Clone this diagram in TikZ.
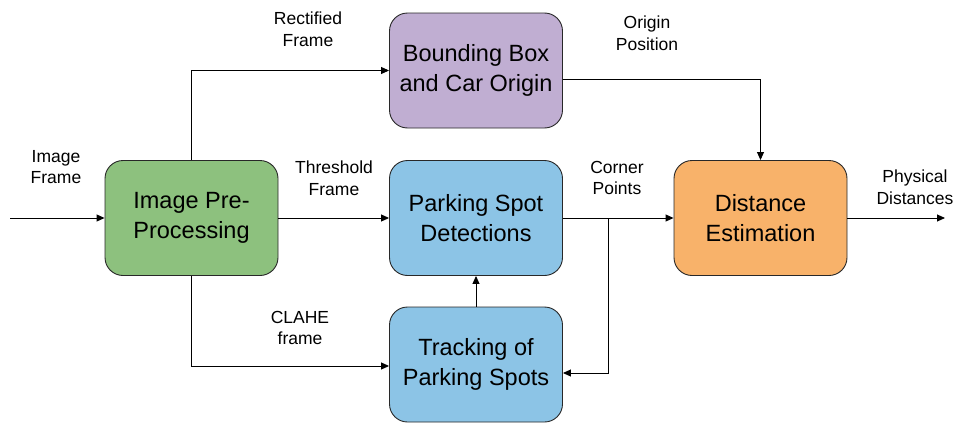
\documentclass[tikz,border=0pt]{standalone}
\usepackage{fontspec}
\setmainfont{Liberation Sans}
\usetikzlibrary{arrows.meta}
\definecolor{prepgreen}{RGB}{141,193,126}
\definecolor{boxpurple}{RGB}{192,174,210}
\definecolor{spotblue}{RGB}{140,196,230}
\definecolor{distorange}{RGB}{248,178,106}
\definecolor{edgegray}{RGB}{40,40,40}
\tikzset{
  block/.style={draw=edgegray, line width=0.9pt, rounded corners=18pt,
    minimum width=173pt, minimum height=115pt, align=center,
    font=\fontsize{23.5}{29.5}\selectfont, inner sep=0pt},
  flow/.style={draw=black, line width=0.9pt, -{Triangle[length=8pt,width=7pt]}},
  lbl/.style={align=center, font=\fontsize{17.5}{21.5}\selectfont, inner sep=0pt}
}
\begin{document}
\begin{tikzpicture}[x=1pt, y=-1pt]
  \useasboundingbox (0,0) rectangle (958,423);

  % processing blocks
  \node[block, fill=prepgreen]  (prep)  at (191.5,218) {Image Pre-\\Processing};
  \node[block, fill=boxpurple]  (bbox)  at (476,70.5)  {Bounding Box\\and Car Origin};
  \node[block, fill=spotblue]   (detect) at (476,218)  {Parking Spot\\Detections};
  \node[block, fill=spotblue]   (track) at (476,364.5) {Tracking of\\Parking Spots};
  \node[block, fill=distorange] (dist)  at (760.5,218) {Distance\\Estimation};

  % free ends and bends
  \coordinate (in)  at (10,218);
  \coordinate (out) at (945,218);
  \coordinate (split) at (608,218);

  % connectors
  \draw[flow] (in) -- (prep.west);
  \draw[flow] (prep.north) |- (bbox.west);
  \draw[flow] (prep.east) -- (detect.west);
  \draw[flow] (prep.south) |- (track.west |- 0,366);
  \draw[flow] (bbox.east |- 0,79) -| (dist.north);
  \draw[flow] (detect.east) -- (dist.west);
  \draw[flow] (split) |- (track.east |- 0,373);
  \draw[flow] (track.north) -- (detect.south);
  \draw[flow] (dist.east) -- (out);

  % connector labels
  \node[lbl] (limg)  at (56,167)  {Image\\Frame};
  \node[lbl] (lrect) at (308,29)  {Rectified\\Frame};
  \node[lbl] (lthr)  at (334,178) {Threshold\\Frame};
  \node[lbl] (lclahe) at (300,328) {CLAHE\\frame};
  \node[lbl] (lorig) at (647,33)  {Origin\\Position};
  \node[lbl] (lcorn) at (617,178) {Corner\\Points};
  \node[lbl] (lphys) at (915,187) {Physical\\Distances};
\end{tikzpicture}
\end{document}
